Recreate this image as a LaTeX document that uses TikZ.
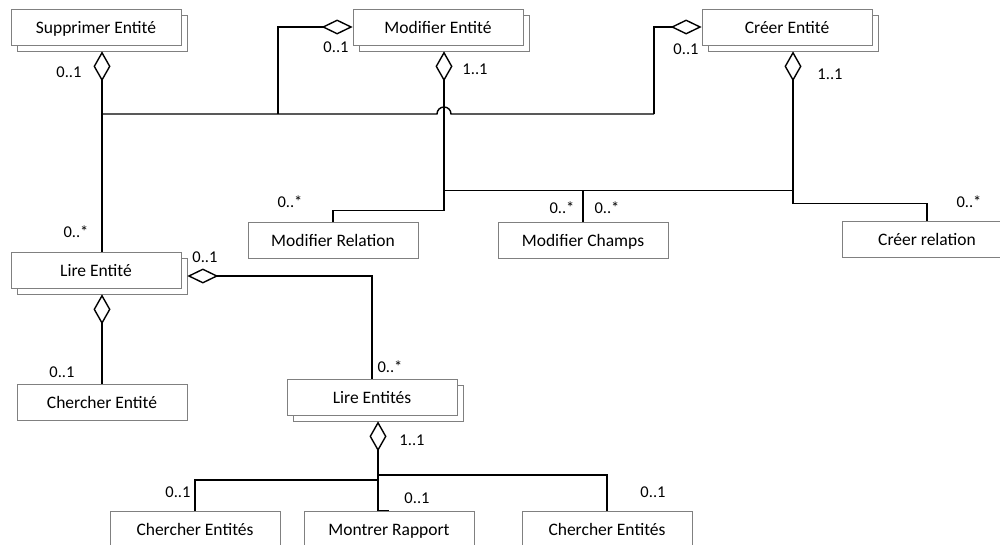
\documentclass[tikz,border=0pt]{standalone}
\usepackage{fontspec}
\setmainfont{Carlito}
\usetikzlibrary{arrows.meta, calc}
\tikzset{
  cls/.style  ={draw=black!50, fill=white, line width=0.7pt, minimum width=170pt, minimum height=36pt, inner sep=0pt, text height=15pt, text depth=3pt, font=\fontsize{17.5}{20}\selectfont},
  mult/.style ={font=\fontsize{16.5}{19}\selectfont, inner sep=0pt},
  link/.style ={line width=1.4pt},
  aggv/.style ={{Diamond[open, length=30pt, width=17pt]}-, line width=1.4pt},  % diamond under a box
  aggh/.style ={{Diamond[open, length=31pt, width=15pt]}-, line width=1.4pt},  % diamond beside a box
}
\begin{document}
\begin{tikzpicture}[x=1pt, y=-1pt]
  \clip (0,0) rectangle (1000,544);
  % stacked boxes: back sheet first
  \node[cls] (supB)   at (102,33)  {};
  \node[cls] (sup)    at (96,27)   {Supprimer Entité};
  \node[cls] (modB)   at (444,33)  {};
  \node[cls] (mod)    at (438,27)  {Modifier Entité};
  \node[cls] (creB)   at (793,33)  {};
  \node[cls] (cre)    at (787,27)  {Créer Entité};
  \node[cls] (lireB)  at (102,276) {};
  \node[cls] (lire)   at (96,270)  {Lire Entité};
  \node[cls] (liresB) at (378,403) {};
  \node[cls] (lires)  at (372,397) {Lire Entités};
  % plain boxes
  \node[cls] (modRel) at (333,240) {Modifier Relation};
  \node[cls] (modCh)  at (583,240) {Modifier Champs};
  \node[cls] (creRel) at (927,239) {Créer relation};
  \node[cls] (cheE)   at (102,402) {Chercher Entité};
  \node[cls] (cheS1)  at (195,529) {Chercher Entités};
  \node[cls] (montr)  at (389,529) {Montrer Rapport};
  \node[cls] (cheS2)  at (607,529) {Chercher Entités};

  % junctions
  \coordinate (jm)  at (278,114);
  \coordinate (hop) at (437,114);
  \coordinate (jc)  at (654,114);
  \coordinate (jl)  at (378,480);
  \coordinate (jr)  at (378,475);

  % top row
  \draw[aggv] (supB.south) -- (supB.south |- lire.north);
  \draw[aggh] (mod.west) -| (jm);
  \draw[aggh] (cre.west) -| (jc);
  \draw[link] (supB.south |- jm) -- (hop) arc[start angle=180, end angle=0, radius=7pt] -- (jc);
  \draw[aggv] (modB.south) |- ([yshift=11pt]modRel.north) -- (modRel.north);
  \draw[link] (modCh.north) -- ++(0,-31) coordinate (b2);
  \draw[link] (modB.south |- b2) -- (creB.south |- b2);
  \draw[aggv] (creB.south) |- ([yshift=17pt]creRel.north) -- (creRel.north);

  % lower part
  \draw[aggv] (lireB.south) -- (cheE.north);
  \draw[aggh] (lireB.east) -| (lires.north);
  \draw[aggv] (liresB.south) |- (montr.north);
  \draw[link] (jl) -| (cheS1.north);
  \draw[link] (jr) -| (cheS2.north);

  % multiplicities
  \node[mult] (m1)  at (69,72)   {0..1};
  \node[mult] (m2)  at (336,47)  {0..1};
  \node[mult] (m3)  at (475,69)  {1..1};
  \node[mult] (m4)  at (686,49)  {0..1};
  \node[mult] (m5)  at (830,74)  {1..1};
  \node[mult] (m6)  at (290,202) {0..*};
  \node[mult] (m7)  at (562,208) {0..*};
  \node[mult] (m8)  at (607,208) {0..*};
  \node[mult] (m9)  at (969,202) {0..*};
  \node[mult] (m10) at (76,232)  {0..*};
  \node[mult] (m11) at (205,257) {0..1};
  \node[mult] (m12) at (62,372)  {0..1};
  \node[mult] (m13) at (390,367) {0..*};
  \node[mult] (m14) at (412,440) {1..1};
  \node[mult] (m15) at (178,492) {0..1};
  \node[mult] (m16) at (417,498) {0..1};
  \node[mult] (m17) at (653,492) {0..1};
\end{tikzpicture}
\end{document}
